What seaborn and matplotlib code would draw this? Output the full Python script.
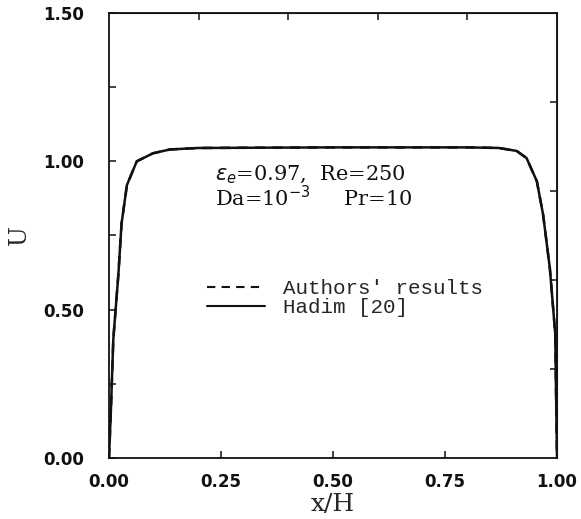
import matplotlib
matplotlib.use("Agg")
import matplotlib.pyplot as plt
import seaborn as sns
import pandas as pd
from matplotlib.lines import Line2D

# data
x_vals = [0.0, 0.004, 0.0096, 0.021, 0.028, 0.040, 0.062, 0.098, 0.136, 0.20, 0.50,
          0.80, 0.87, 0.91, 0.932, 0.955, 0.969, 0.984, 0.996, 0.999, 1.0]
u_authors = [0.0, 0.15, 0.40, 0.62, 0.79, 0.92, 1.0, 1.027, 1.040, 1.045, 1.047,
             1.047, 1.045, 1.035, 1.011, 0.933, 0.82, 0.64, 0.42, 0.10, 0.0]
u_hadim = [0.0, 0.15, 0.40, 0.62, 0.79, 0.92, 1.0, 1.027, 1.040, 1.045, 1.047,
           1.047, 1.045, 1.035, 1.011, 0.933, 0.82, 0.64, 0.42, 0.10, 0.0]
series_names = ["Authors' results", "Hadim [20]"]
x_ticks = [0.0, 0.25, 0.50, 0.75, 1.00]
y_ticks = [0.0, 0.50, 1.00, 1.50]
y_minor = [0.25, 0.75, 1.25]
top_ticks = [0.2, 0.4, 0.6, 0.8]
right_ticks = [0.3, 0.6, 0.9, 1.2]

df = pd.DataFrame({
    "x": x_vals * 2,
    "U": u_authors + u_hadim,
    "series": [series_names[0]] * len(x_vals) + [series_names[1]] * len(x_vals),
})

sns.set_style("white")
fig = plt.figure(figsize=(5.81, 5.19), dpi=100)
ax = fig.add_axes([0.1876, 0.1175, 0.7711, 0.8575])

sns.lineplot(data=df, x="x", y="U", hue="series", style="series",
             palette={series_names[0]: "#111111", series_names[1]: "#111111"},
             dashes={series_names[0]: (4, 3), series_names[1]: ""},
             linewidth=1.8, ax=ax, legend=False, estimator=None, sort=False)

ax.set_xlim(0, 1)
ax.set_ylim(0, 1.5)
ax.set_xticks(x_ticks)
ax.set_yticks(y_ticks)
ax.set_yticks(y_minor, minor=True)
tick_font = dict(fontfamily="DejaVu Sans", fontweight="bold", fontsize=12)
ax.set_xticklabels([f"{v:.2f}" for v in x_ticks], **tick_font)
ax.set_yticklabels([f"{v:.2f}" for v in y_ticks], **tick_font)
ax.tick_params(axis="both", which="both", direction="in", length=5, width=1.2,
               color="#222222", bottom=True, left=True, top=False, right=False)
ax.tick_params(axis="x", pad=11)
ax.tick_params(axis="y", pad=18)
for lab in ax.get_xticklabels() + ax.get_yticklabels():
    lab.set_color("#111111")

for s in ax.spines.values():
    s.set_color("#111111")
    s.set_linewidth(1.3)

secx = ax.secondary_xaxis("top")
secx.set_xticks(top_ticks)
secx.set_xticklabels([])
secx.tick_params(direction="in", length=5, width=1.2, color="#222222", top=True)
secy = ax.secondary_yaxis("right")
secy.set_yticks(right_ticks)
secy.set_yticklabels([])
secy.tick_params(direction="in", length=5, width=1.2, color="#222222", right=True)

ax.set_xlabel("x/H", fontfamily="DejaVu Serif", fontsize=18, labelpad=1)
ax.set_ylabel("U", fontfamily="DejaVu Serif", fontsize=17)
ax.yaxis.set_label_coords(-0.175, 0.5)

# annotation (two lines in one text)
ann_text = (r"$\varepsilon_{e}$=0.97,  Re=250" + "\n"
            + r"Da=10$^{-3}$" + " " * 5 + "Pr=10")
ax.text(0.237, 0.608, ann_text, va="center", ha="left", transform=ax.transAxes,
        fontfamily="DejaVu Serif", fontsize=15, color="#111111", linespacing=0.95)

# legend
handles = [Line2D([0], [0], color="#111111", lw=1.5, dashes=(4, 3)),
           Line2D([0], [0], color="#111111", lw=1.5)]
leg = ax.legend(handles, series_names, loc="upper left",
                bbox_to_anchor=(0.20, 0.42), frameon=False,
                prop={"family": "Liberation Mono", "size": 15},
                handlelength=2.8, handletextpad=0.85, labelspacing=0.0,
                borderaxespad=0)

fig.savefig("out.png", dpi=100, facecolor="white")
